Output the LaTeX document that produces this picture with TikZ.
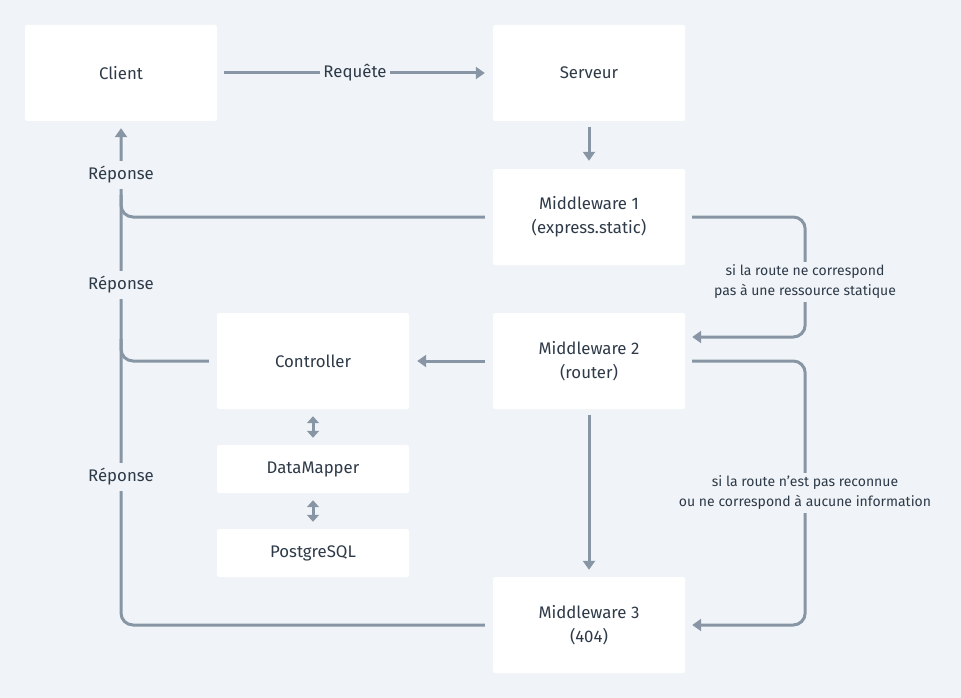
\documentclass[tikz,border=0pt]{standalone}
\usepackage{fontspec}
\setmainfont{Fira Sans}
\usetikzlibrary{arrows.meta}
\definecolor{sfondo}{HTML}{F0F4F8}
\definecolor{linea}{HTML}{8795A4}
\definecolor{testo}{HTML}{2E3A48}

\begin{document}
\begin{tikzpicture}[x=1pt,y=-1pt,font=\fontsize{16.8}{24}\selectfont,text=testo,
    box/.style={fill=white,rounded corners=2pt,minimum width=192pt,
                minimum height=96pt,align=center,inner sep=0pt},
    boxbasso/.style={box,minimum height=48pt},
    filo/.style={draw=linea,line width=3pt,rounded corners=12pt},
    conn/.style={filo,-{Triangle[width=12pt,length=9pt]}},
    doppia/.style={filo,{Triangle[width=12pt,length=7pt]}-{Triangle[width=12pt,length=7pt]}},
    etich/.style={fill=sfondo,inner xsep=3pt,inner ysep=5pt,align=center},
    nota/.style={etich,font=\fontsize{14}{20}\selectfont,inner ysep=3pt}]
  \fill [sfondo] (0,0) rectangle (961,698); % sfondo
  \useasboundingbox (0,0) rectangle (961,698);
  % blocchi
  \node [box] (client)  at (121,73)  {Client};
  \node [box] (serveur) at (589,73)  {Serveur};
  \node [box] (mw1)     at (589,217) {Middleware 1\\(express.static)};
  \node [box] (mw2)     at (589,361) {Middleware 2\\(router)};
  \node [box] (mw3)     at (589,625) {Middleware 3\\(404)};
  \node [box] (ctrl)    at (313,361) {Controller};
  \node [boxbasso] (dm) at (313,469) {DataMapper};
  \node [boxbasso] (pg) at (313,553) {PostgreSQL};
  % richiesta
  \draw [conn] ([xshift=7pt]client.east) -- ([xshift=-8pt]serveur.west);
  \node [etich] (req) at (355,73) {Requête};
  \draw [conn] ([yshift=-6pt]serveur.south) -- ([yshift=8pt]mw1.north);
  % catena dei middleware
  \draw [conn] ([xshift=7pt]mw1.east) -- ++(113,0) |- ([xshift=7pt,yshift=24pt]mw2.east);
  \node [nota] (nota1) at (805,282) {si la route ne correspond\\pas à une ressource statique};
  \draw [conn] ([xshift=7pt]mw2.east) -- ++(113,0) |- ([xshift=7pt]mw3.east);
  \node [nota] (nota2) at (805,493) {si la route n’est pas reconnue\\ou ne correspond à aucune information};
  \draw [conn] ([yshift=-6pt]mw2.south) -- ([yshift=7pt]mw3.north);
  \draw [conn] ([xshift=-8pt]mw2.west) -- ([xshift=8pt]ctrl.east);
  % accesso ai dati
  \draw [doppia] ([yshift=-7pt]ctrl.south) -- ([yshift=7pt]dm.north);
  \draw [doppia] ([yshift=-7pt]dm.south) -- ([yshift=7pt]pg.north);
  % risposte verso il client
  \draw [conn] ([xshift=-8pt]mw3.west) -| ([yshift=-7pt]client.south);
  \draw [filo] ([xshift=-8pt]mw1.west) -| (121,195);
  \draw [filo] ([xshift=-8pt]ctrl.west) -| (121,339);
  \node [etich] (rep1) at (121,175) {Réponse};
  \node [etich] (rep2) at (121,285) {Réponse};
  \node [etich] (rep3) at (121,477) {Réponse};
\end{tikzpicture}
\end{document}
